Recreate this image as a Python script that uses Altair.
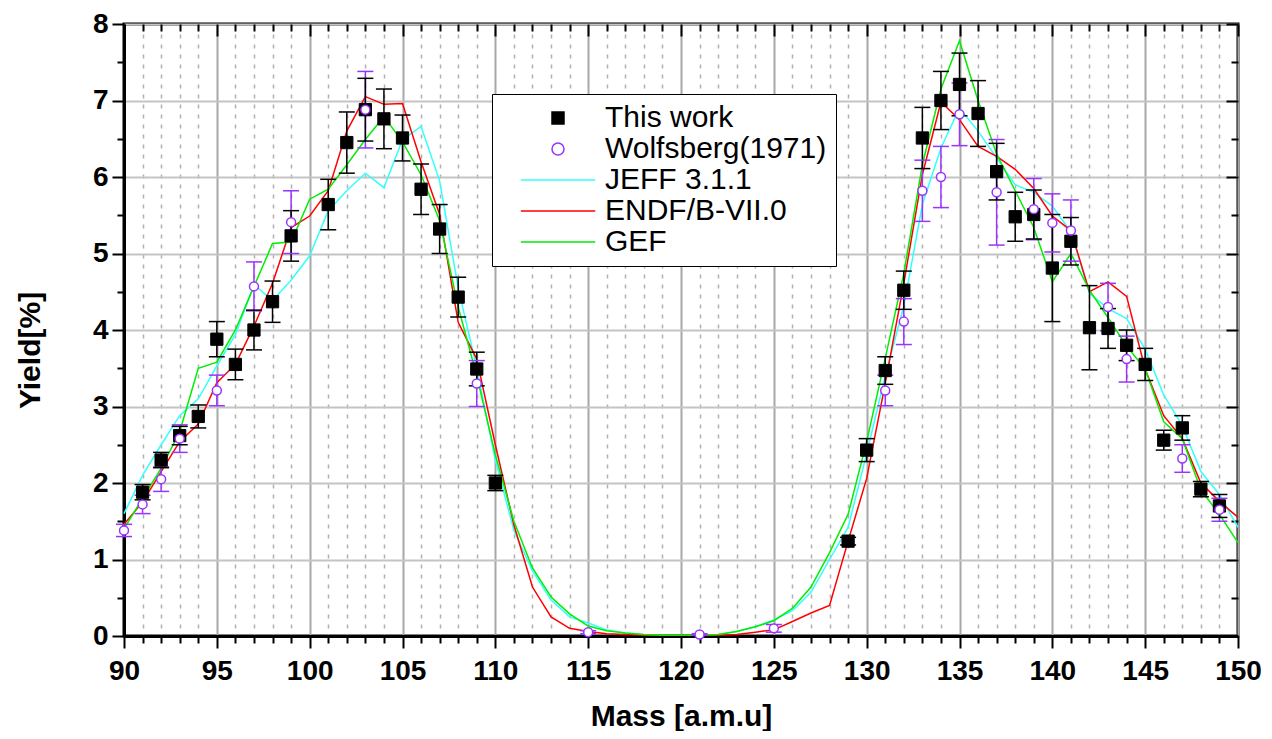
import altair as alt
import pandas as pd

# ---------------- data ----------------
MASS = list(range(90, 151))
JEFF = [1.60, 2.10, 2.50, 2.88, 3.10, 3.53, 3.94, 4.59, 4.39, 4.65,
        4.97, 5.56, 5.82, 6.05, 5.86, 6.49, 6.66, 5.95, 4.55, 3.50,
        2.30, 1.38, 0.85, 0.47, 0.25, 0.17, 0.08, 0.04, 0.02, 0.01,
        0.01, 0.01, 0.02, 0.06, 0.12, 0.21, 0.33, 0.57, 1.00, 1.42,
        2.38, 3.40, 4.31, 5.64, 6.38, 6.90, 6.60, 6.25, 5.90, 5.80,
        5.62, 5.28, 4.48, 4.28, 4.15, 3.75, 3.15, 2.75, 2.15, 1.85,
        1.42]
ENDF = [1.46, 1.75, 2.15, 2.54, 2.77, 3.31, 3.55, 4.05, 4.61, 5.34,
        5.49, 5.82, 6.60, 7.05, 6.95, 6.96, 6.20, 5.51, 4.10, 3.62,
        2.50, 1.45, 0.64, 0.25, 0.10, 0.06, 0.03, 0.02, 0.01, 0.01,
        0.01, 0.01, 0.01, 0.02, 0.05, 0.08, 0.19, 0.30, 0.40, 1.24,
        2.06, 3.30, 4.61, 6.03, 6.98, 6.75, 6.40, 6.27, 6.10, 5.85,
        5.49, 5.30, 4.50, 4.63, 4.44, 3.49, 2.88, 2.58, 2.00, 1.76,
        1.55]
GEF = [1.40, 1.80, 2.19, 2.67, 3.50, 3.58, 4.00, 4.57, 5.13, 5.15,
       5.71, 5.84, 6.16, 6.49, 6.79, 6.46, 6.03, 5.43, 4.30, 3.40,
       2.37, 1.50, 0.89, 0.51, 0.29, 0.13, 0.07, 0.04, 0.02, 0.01,
       0.01, 0.01, 0.02, 0.06, 0.12, 0.20, 0.36, 0.64, 1.09, 1.59,
       2.54, 3.63, 4.74, 6.16, 7.15, 7.78, 7.00, 6.30, 5.82, 5.34,
       4.63, 5.00, 4.52, 4.16, 3.79, 3.49, 2.80, 2.58, 1.91, 1.59,
       1.22]

TW_MASS = [91, 92, 93, 94, 95, 96, 97, 98, 99, 101, 102, 103, 104, 105, 106,
           107, 108, 109, 110, 129, 130, 131, 132, 133, 134, 135, 136, 137,
           138, 139, 140, 141, 142, 143, 144, 145, 146, 147, 148, 149]
TW_Y = [1.88, 2.30, 2.62, 2.87, 3.88, 3.55, 4.00, 4.37, 5.23, 5.64, 6.45,
        6.88, 6.76, 6.51, 5.84, 5.32, 4.43, 3.49, 2.00, 1.24, 2.43, 3.47,
        4.52, 6.51, 7.00, 7.21, 6.83, 6.07, 5.48, 5.51, 4.81, 5.16, 4.03,
        4.02, 3.80, 3.55, 2.56, 2.72, 1.92, 1.70]
TW_ERR = [0.10, 0.10, 0.12, 0.15, 0.23, 0.20, 0.26, 0.27, 0.33, 0.33, 0.40,
          0.41, 0.39, 0.30, 0.33, 0.32, 0.26, 0.22, 0.10, 0.05, 0.15, 0.18,
          0.25, 0.40, 0.38, 0.41, 0.43, 0.37, 0.32, 0.32, 0.70, 0.31, 0.55,
          0.26, 0.20, 0.21, 0.13, 0.16, 0.10, 0.15]

WF_MASS = [90, 91, 92, 93, 95, 97, 99, 103, 109, 115, 121, 125, 131, 132,
           133, 134, 135, 137, 139, 140, 141, 143, 144, 147, 149]
WF_Y = [1.38, 1.72, 2.05, 2.58, 3.21, 4.57, 5.41, 6.88, 3.30, 0.05, 0.02,
        0.10, 3.21, 4.11, 5.82, 6.00, 6.82, 5.80, 5.58, 5.40, 5.30, 4.30,
        3.62, 2.32, 1.65]
WF_ERR = [0.08, 0.12, 0.16, 0.18, 0.20, 0.32, 0.41, 0.50, 0.30, 0.02, 0.01,
          0.05, 0.20, 0.30, 0.40, 0.40, 0.41, 0.69, 0.40, 0.38, 0.40, 0.31,
          0.30, 0.18, 0.15]

SERIES = ["This work", "Wolfsberg(1971)", "JEFF 3.1.1", "ENDF/B-VII.0", "GEF"]
COLORS = ["#000000", "#9933ff", "#33ffff", "#ff0000", "#00ee00"]
FILLS = ["#000000", "#ffffff", "transparent", "transparent", "transparent"]
LINE_SYMBOL = "M-6.2,0H6.2"
SHAPES = ["square", "circle", LINE_SYMBOL, LINE_SYMBOL, LINE_SYMBOL]

X_MAJOR = list(range(90, 151, 5))
X_MINOR = [m for m in range(90, 151) if m % 5 != 0]
Y_MAJOR = list(range(0, 9))
Y_MINOR = [v + 0.5 for v in range(0, 8)]

FONT = "Liberation Sans"

# ---------------- tables ----------------
lines_df = pd.DataFrame({
    "mass": MASS * 3,
    "yield": JEFF + ENDF + GEF,
    "series": ["JEFF 3.1.1"] * len(MASS) + ["ENDF/B-VII.0"] * len(MASS) + ["GEF"] * len(MASS),
})
tw_df = pd.DataFrame({"mass": TW_MASS, "yield": TW_Y, "err": TW_ERR})
tw_df["series"] = "This work"
wf_df = pd.DataFrame({"mass": WF_MASS, "yield": WF_Y, "err": WF_ERR})
wf_df["series"] = "Wolfsberg(1971)"
err_df = pd.concat([wf_df, tw_df], ignore_index=True)
err_df["lo"] = err_df["yield"] - err_df["err"]
err_df["hi"] = err_df["yield"] + err_df["err"]

# ---------------- scales ----------------
xs = alt.Scale(domain=[90, 150], nice=False, zero=False)
ys = alt.Scale(domain=[0, 8], nice=False, zero=True)
strokes = alt.Scale(domain=SERIES, range=COLORS)
fills = alt.Scale(domain=SERIES, range=FILLS)
shapes = alt.Scale(domain=SERIES, range=SHAPES)

# ---------------- axes ----------------
x_bottom_major = alt.Axis(
    orient="bottom", values=X_MAJOR, title="Mass [a.m.u]", format="d",
    labelFont=FONT, labelFontSize=28, labelFontWeight="bold", labelColor="black",
    labelPadding=9, labelFlush=False, labelOverlap=False,
    titleFont=FONT, titleFontSize=30, titleFontWeight="bold", titleColor="black",
    titleX=557, titleY=80, titleBaseline="middle",
    domain=True, domainColor="black", domainWidth=3,
    tickColor="black", tickWidth=2, tickSize=12,
    grid=True, gridColor="#a8a8a8", gridWidth=2,
)
x_bottom_minor = alt.Axis(
    orient="bottom", values=X_MINOR, labels=False, title=None, domain=False,
    tickColor="black", tickWidth=2, tickSize=7,
    grid=True, gridColor="#b0b0b0", gridWidth=1.5, gridDash=[4, 6],
)
y_left_major = alt.Axis(
    orient="left", values=Y_MAJOR, title="Yield[%]", format="d",
    labelFont=FONT, labelFontSize=28, labelFontWeight="bold", labelColor="black",
    labelPadding=4, labelFlush=False, labelOverlap=False,
    titleFont=FONT, titleFontSize=30, titleFontWeight="bold", titleColor="black",
    titleAngle=270, titleX=-94, titleY=326, titleBaseline="middle", titleAlign="center",
    domain=True, domainColor="black", domainWidth=3,
    tickColor="black", tickWidth=2, tickSize=12,
    grid=True, gridColor="#c4c4c4", gridWidth=2,
)
y_left_minor = alt.Axis(
    orient="left", values=Y_MINOR, labels=False, title=None, domain=False,
    tickColor="black", tickWidth=2, tickSize=7, grid=False,
)
x_top_major = alt.Axis(
    orient="top", values=X_MAJOR, labels=False, title=None, domain=False, grid=False,
    tickColor="black", tickWidth=2, tickSize=12, offset=-12,
)
x_top_minor = alt.Axis(
    orient="top", values=X_MINOR, labels=False, title=None, domain=False, grid=False,
    tickColor="black", tickWidth=2, tickSize=7, offset=-7,
)
y_right_major = alt.Axis(
    orient="right", values=Y_MAJOR, labels=False, title=None, domain=False, grid=False,
    tickColor="black", tickWidth=2, tickSize=12, offset=-12,
)
y_right_minor = alt.Axis(
    orient="right", values=Y_MINOR, labels=False, title=None, domain=False, grid=False,
    tickColor="black", tickWidth=2, tickSize=7, offset=-7,
)

legend = alt.Legend(
    title=None, orient="none", legendX=368, legendY=70, direction="vertical",
    strokeColor="black", fillColor="white", padding=9, rowPadding=1,
    labelFont=FONT, labelFontSize=30, labelColor="black", labelLimit=400,
    symbolSize=144, symbolStrokeWidth=1.5, symbolOffset=42, labelOffset=32,
)

# ---------------- layers ----------------
lines = alt.Chart(lines_df).mark_line(strokeWidth=1.5).encode(
    x=alt.X("mass:Q", scale=xs, axis=x_bottom_major),
    y=alt.Y("yield:Q", scale=ys, axis=y_left_major),
    stroke=alt.Stroke("series:N", scale=strokes, legend=legend),
)

err_rules = alt.Chart(err_df).mark_rule(strokeWidth=1.5).encode(
    x=alt.X("mass:Q", scale=xs, axis=x_bottom_minor),
    y=alt.Y("lo:Q", scale=ys, axis=y_left_minor),
    y2="hi:Q",
    stroke=alt.Stroke("series:N", scale=strokes, legend=legend),
)

caps = alt.Chart(err_df).transform_fold(["lo", "hi"], as_=["end", "val"]).mark_rule(
    strokeWidth=1.5, xOffset=-8, x2Offset=8
).encode(
    x=alt.X("mass:Q", scale=xs, axis=x_top_major),
    x2="mass:Q",
    y=alt.Y("val:Q", scale=ys, axis=y_right_major),
    stroke=alt.Stroke("series:N", scale=strokes, legend=legend),
)

tw_pts = alt.Chart(tw_df).mark_point(filled=True, size=150, strokeWidth=1, opacity=1).encode(
    x=alt.X("mass:Q", scale=xs, axis=x_top_minor),
    y=alt.Y("yield:Q", scale=ys, axis=y_right_minor),
    fill=alt.Fill("series:N", scale=fills, legend=legend),
    stroke=alt.Stroke("series:N", scale=strokes, legend=legend),
    shape=alt.Shape("series:N", scale=shapes, legend=legend),
)

wf_pts = alt.Chart(wf_df).mark_point(filled=True, size=80, strokeWidth=1.5, opacity=1).encode(
    x=alt.X("mass:Q", scale=xs, axis=None),
    y=alt.Y("yield:Q", scale=ys, axis=None),
    fill=alt.Fill("series:N", scale=fills, legend=legend),
    stroke=alt.Stroke("series:N", scale=strokes, legend=legend),
    shape=alt.Shape("series:N", scale=shapes, legend=legend),
)

chart = alt.layer(lines, err_rules, caps, tw_pts, wf_pts).resolve_axis(
    x="independent", y="independent"
).properties(
    width=1114, height=612,
    autosize=alt.AutoSizeParams(type="none"),
    padding={"left": 116, "top": 16, "right": 26, "bottom": 95},
    background="white",
).configure_view(stroke="black", strokeWidth=3)

chart.save("out.html", embed_options={"renderer": "svg", "actions": False})
